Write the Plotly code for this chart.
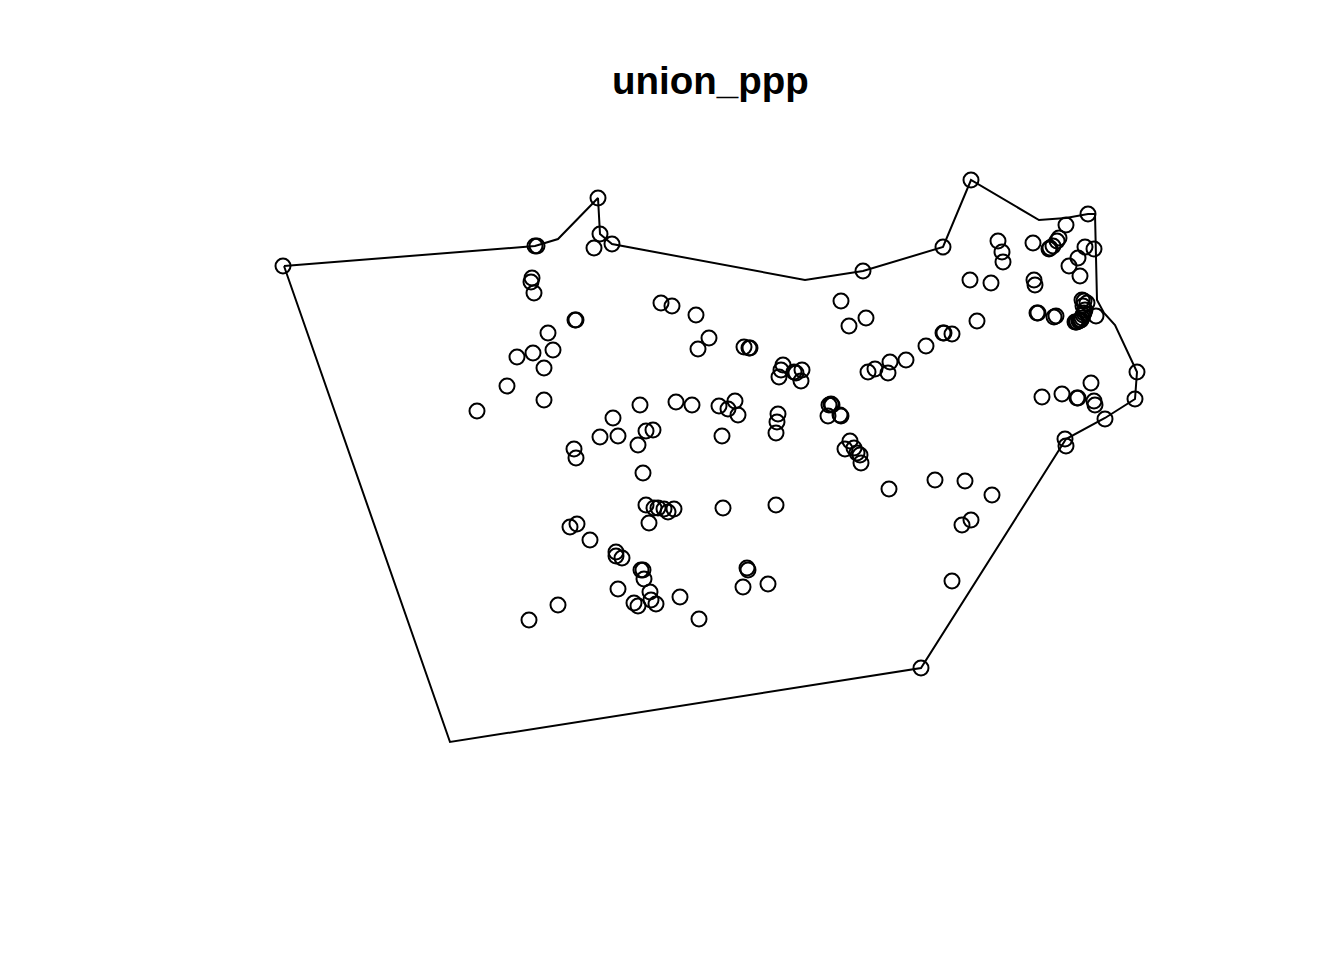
import plotly.graph_objects as go

title = "union_ppp"
window_x = [284,535,558,598,600,612,805,863,943,971,1039,1066,1088,1095,1097,1104,1115,1137,1135,1105,1066,921,450,284]
window_y = [266,246,239,198,234,244,280,271,247,180,220,218,214,214,300,313,325,372,399,418,439,668,742,266]

points = [
(283,266),(598,198),(971,180),(1088,214),(1066,225),(943,247),(863,271),(612,244),(600,234),(594,248),
(535,246),(537,246),(532,278),(531,282),(534,293),(576,320),(575,320),(548,333),(533,353),(553,350),(517,357),(544,368),(507,386),(544,400),(477,411),
(661,303),(672,306),(696,315),(709,338),(698,349),(744,347),(749,348),(750,348),
(783,365),(781,370),(779,377),(794,372),(796,373),(802,370),(801,381),
(841,301),(849,326),(866,318),(868,372),(875,369),(888,373),(890,362),(906,360),(926,346),(943,333),(944,333),(952,334),(977,321),
(970,280),(991,283),(998,241),(1002,252),(1003,262),(1033,243),(1034,280),(1035,285),
(1049,249),(1050,248),(1053,246),(1057,241),(1059,238),(1085,247),(1094,249),(1078,258),(1069,266),(1080,276),
(1037,313),(1038,313),(1054,317),(1056,316),(1082,300),(1084,301),(1087,303),(1083,306),(1085,310),(1084,313),(1083,315),(1096,316),(1082,318),(1081,320),(1080,320),(1079,321),(1077,322),(1076,322),(1075,322),
(1091,383),(1042,397),(1062,394),(1077,398),(1078,398),(1094,401),(1095,405),(1105,419),(1135,399),(1137,372),(1065,439),(1066,446),
(640,405),(676,402),(692,405),(719,406),(728,409),(735,401),(738,415),(778,414),(777,422),(776,433),(722,436),
(613,418),(600,437),(618,436),(646,431),(653,430),(638,445),(574,449),(576,458),(643,473),
(829,405),(831,404),(832,405),(828,416),(840,415),(841,416),(850,441),(845,449),(854,448),(857,453),(860,455),(861,463),
(889,489),(935,480),(965,481),(992,495),(971,520),(962,525),(952,581),(921,668),
(646,505),(654,508),(658,508),(664,509),(668,512),(674,509),(649,523),(723,508),(776,505),
(570,527),(577,524),(590,540),(616,552),(616,556),(622,558),(641,570),(643,570),(644,579),(618,589),
(650,592),(651,600),(656,604),(634,603),(638,606),(680,597),(699,619),(558,605),(529,620),
(747,568),(748,570),(743,587),(768,584),
]
point_x = [p[0] for p in points]
point_y = [p[1] for p in points]

fig = go.Figure()
fig.add_trace(go.Scatter(x=window_x, y=window_y, mode="lines",
                         line=dict(color="black", width=2), hoverinfo="skip"))
fig.add_trace(go.Scatter(x=point_x, y=point_y, mode="markers",
                         marker=dict(symbol="circle-open", size=15, color="black",
                                     line=dict(color="black", width=2))))
fig.add_annotation(text="<b>" + title + "</b>", x=710, y=80, xref="x", yref="y",
                   showarrow=False, font=dict(family="Liberation Sans", size=38.5, color="black"))
fig.update_layout(width=1344, height=960, autosize=False, showlegend=False,
                  margin=dict(l=0, r=0, t=0, b=0),
                  paper_bgcolor="white", plot_bgcolor="white",
                  xaxis=dict(range=[0,1344], visible=False, fixedrange=True),
                  yaxis=dict(range=[960,0], visible=False, fixedrange=True))
fig.write_html("out.html", config=dict(displayModeBar=False),
               post_script="document.body.style.margin='0';document.body.style.overflow='hidden';")
